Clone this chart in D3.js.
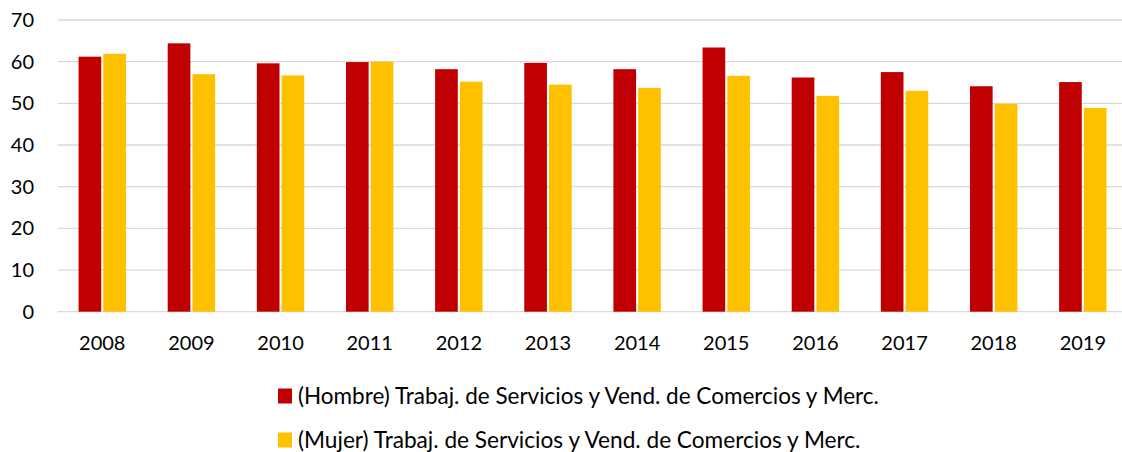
<!DOCTYPE html>
<html>
<head>
<meta charset="utf-8">
<script src="https://cdn.jsdelivr.net/npm/d3@7"></script>
<style>
  html, body { margin: 0; padding: 0; background: #fff; }
  svg { display: block; font-family: Lato, "Open Sans", sans-serif; }
</style>
</head>
<body>
<svg id="chart" width="1122" height="452"></svg>
<script>
const years = ["2008","2009","2010","2011","2012","2013","2014","2015","2016","2017","2018","2019"];
const hombre = [61.2, 64.4, 59.6, 59.9, 58.2, 59.7, 58.2, 63.4, 56.2, 57.5, 54.1, 55.1];
const mujer  = [61.9, 57.0, 56.7, 60.0, 55.2, 54.5, 53.7, 56.6, 51.8, 53.0, 49.9, 48.9];
const seriesNames = [
  "(Hombre) Trabaj. de Servicios y Vend. de Comercios y Merc.",
  "(Mujer) Trabaj. de Servicios y Vend. de Comercios y Merc."
];
const yTicks = [0, 10, 20, 30, 40, 50, 60, 70];
const colors = ["#C00000", "#FFC000"];

const svg = d3.select("#chart");
const plotLeft = 57.7, plotRight = 1127.4, plotTop = 20, plotBottom = 311.7;

const y = d3.scaleLinear().domain([0, 70]).range([plotBottom, plotTop]);
const x0 = d3.scaleBand().domain(years).range([plotLeft, plotRight])
  .paddingInner(0.468).paddingOuter(0.234);
const x1 = d3.scaleBand().domain([0, 1]).range([0, x0.bandwidth()]).paddingInner(0.085);

// gridlines
svg.append("g").selectAll("line").data(yTicks).join("line")
  .attr("x1", plotLeft).attr("x2", plotRight)
  .attr("y1", d => y(d)).attr("y2", d => y(d))
  .attr("stroke", "#d9d9d9").attr("stroke-width", 1.3);

// y axis labels
const yAxis = svg.append("g").attr("transform", `translate(34,0)`)
  .call(d3.axisLeft(y).tickValues(yTicks).tickSize(0).tickPadding(0));
yAxis.select(".domain").remove();
yAxis.selectAll("text").attr("font-size", 20).attr("fill", "#000")
  .attr("font-family", "Lato, 'Open Sans', sans-serif");

// bars
const data = years.map((yr, i) => ({ yr, vals: [hombre[i], mujer[i]] }));
const groups = svg.append("g").selectAll("g").data(data).join("g")
  .attr("transform", d => `translate(${x0(d.yr)},0)`);
groups.selectAll("rect").data(d => d.vals.map((v, k) => ({ v, k }))).join("rect")
  .attr("x", d => x1(d.k)).attr("width", x1.bandwidth())
  .attr("y", d => y(d.v)).attr("height", d => y(0) - y(d.v))
  .attr("fill", d => colors[d.k]);

// x axis labels
const xAxis = svg.append("g").attr("transform", `translate(0,${plotBottom})`)
  .call(d3.axisBottom(x0).tickSize(0).tickPadding(0));
xAxis.select(".domain").remove();
xAxis.selectAll("text").attr("font-size", 20).attr("fill", "#000")
  .attr("font-family", "Lato, 'Open Sans', sans-serif")
  .attr("dy", null).attr("y", 38.5);

// legend
const legend = svg.append("g");
const legendRows = [396, 440];
seriesNames.forEach((name, i) => {
  const g = legend.append("g").attr("transform", `translate(278,${legendRows[i]})`);
  g.append("rect").attr("x", 0).attr("y", -7.5).attr("width", 14).attr("height", 15)
    .attr("fill", colors[i]);
  const t = g.append("text").attr("x", 20).attr("y", 0).attr("dy", "0.35em")
    .attr("font-size", 20).attr("fill", "#000").text(name);
  const target = i === 0 ? 581 : 563;
  const len = t.node().getComputedTextLength();
  t.attr("font-size", 20 * target / len);
});
</script>
</body>
</html>
